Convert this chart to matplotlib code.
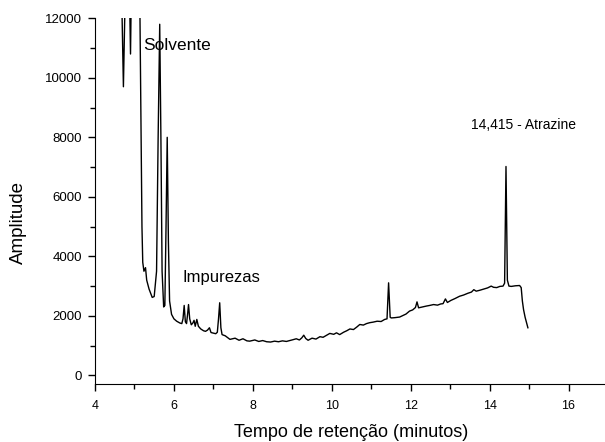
import matplotlib
matplotlib.use("Agg")
import matplotlib.pyplot as plt
from matplotlib.ticker import MultipleLocator

plt.rcParams['font.family'] = ['Liberation Sans', 'DejaVu Sans']

tempo = [4.60, 4.68, 4.72, 4.76, 4.80, 4.86, 4.90, 4.93, 5.00, 5.10, 5.14, 5.17, 5.19, 5.21,
         5.24, 5.28, 5.31, 5.37, 5.45, 5.50, 5.56, 5.60, 5.64, 5.67, 5.70, 5.74, 5.77, 5.80,
         5.83, 5.86, 5.89, 5.94, 6.00, 6.07, 6.15, 6.20, 6.23, 6.26, 6.29, 6.32, 6.35, 6.37,
         6.40, 6.44, 6.48, 6.51, 6.54, 6.58, 6.62, 6.68, 6.75, 6.80, 6.85, 6.90, 6.94, 7.00,
         7.06, 7.10, 7.13, 7.16, 7.19, 7.22, 7.30, 7.42, 7.55, 7.65, 7.75, 7.85, 7.92, 8.05,
         8.15, 8.25, 8.35, 8.45, 8.55, 8.65, 8.75, 8.85, 8.94, 9.02, 9.10, 9.18, 9.24, 9.29,
         9.34, 9.40, 9.50, 9.60, 9.70, 9.78, 9.86, 9.95, 10.05, 10.12, 10.20, 10.30, 10.38,
         10.46, 10.55, 10.63, 10.71, 10.80, 10.88, 10.96, 11.05, 11.15, 11.25, 11.34, 11.40,
         11.44, 11.48, 11.51, 11.60, 11.72, 11.80, 11.88, 11.97, 12.05, 12.12, 12.16, 12.20,
         12.30, 12.40, 12.48, 12.58, 12.68, 12.76, 12.82, 12.88, 12.93, 13.02, 13.12, 13.24,
         13.34, 13.45, 13.54, 13.60, 13.66, 13.75, 13.85, 13.95, 14.04, 14.10, 14.18, 14.26,
         14.34, 14.38, 14.415, 14.45, 14.49, 14.55, 14.65, 14.76, 14.80, 14.83, 14.86, 14.90,
         14.97]
amplitude = [15000, 12500, 9700, 12500, 15000, 14000, 10800, 14000, 16000, 14000, 12000, 8000,
             5000, 3800, 3500, 3620, 3200, 2900, 2620, 2650, 3500, 8000, 11800, 8000, 3500,
             2300, 2350, 5000, 8000, 4500, 2500, 2050, 1900, 1820, 1760, 1740, 1900, 2350,
             1800, 1740, 2100, 2380, 1900, 1700, 1760, 1850, 1650, 1880, 1650, 1560, 1500,
             1480, 1520, 1600, 1440, 1420, 1400, 1450, 1900, 2440, 1600, 1370, 1330, 1210,
             1250, 1180, 1230, 1160, 1150, 1190, 1140, 1170, 1130, 1120, 1150, 1130, 1160,
             1140, 1170, 1200, 1230, 1190, 1260, 1350, 1240, 1180, 1250, 1220, 1300, 1280,
             1340, 1410, 1380, 1430, 1370, 1450, 1500, 1560, 1540, 1620, 1710, 1690, 1740,
             1770, 1790, 1820, 1810, 1880, 1900, 3110, 1950, 1930, 1940, 1960, 2010, 2060,
             2160, 2200, 2280, 2470, 2270, 2300, 2330, 2350, 2380, 2360, 2400, 2410, 2570,
             2450, 2520, 2580, 2660, 2700, 2760, 2800, 2880, 2830, 2860, 2900, 2940, 3000,
             2960, 2950, 2990, 3000, 3100, 7020, 3200, 3000, 2990, 3010, 3020, 2950, 2500,
             2210, 1950, 1600]

fig = plt.figure(figsize=(6.05, 4.42), dpi=100)
ax = fig.add_axes([95 / 605, 57.7 / 442, 513 / 605, 366 / 442])

ax.plot(tempo, amplitude, color='black', linewidth=1.0)

ax.set_xlim(4, 17)
ax.set_ylim(-300, 12000)
ax.xaxis.set_major_locator(MultipleLocator(2))
ax.xaxis.set_minor_locator(MultipleLocator(1))
ax.yaxis.set_major_locator(MultipleLocator(2000))
ax.yaxis.set_minor_locator(MultipleLocator(1000))
ax.tick_params(which='major', direction='out', length=5.3, width=1)
ax.tick_params(which='minor', direction='out', length=3.6, width=1)
ax.tick_params(axis='x', labelsize=9, pad=6)
ax.tick_params(axis='y', labelsize=9.5, pad=3.9)

for s in ['top', 'right']:
    ax.spines[s].set_visible(False)

ax.set_xlabel('Tempo de retenção (minutos)', fontsize=13, va='baseline')
ax.xaxis.set_label_coords(0.5, -0.143)
ax.set_ylabel('Amplitude', fontsize=13.5, va='center', ha='center')
ax.yaxis.set_label_coords(-0.1495, 0.442)

ax.text(5.21, 10935, 'Solvente', fontsize=12.5, va='baseline')
ax.text(6.23, 3126, 'Impurezas', fontsize=12, va='baseline')
ax.text(13.54, 8280, '14,415 - Atrazine', fontsize=10, va='baseline')

fig.savefig('out.png', dpi=100)
